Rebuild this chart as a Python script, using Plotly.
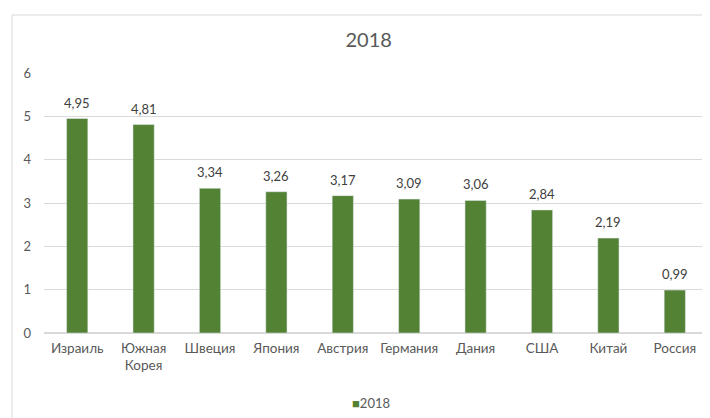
import plotly.graph_objects as go

countries = ["Израиль", "Южная<br>Корея", "Швеция", "Япония", "Австрия",
             "Германия", "Дания", "США", "Китай", "Россия"]
values = [4.95, 4.81, 3.34, 3.26, 3.17, 3.09, 3.06, 2.84, 2.19, 0.99]
labels = [f"{v:.2f}".replace(".", ",") for v in values]
series_name = "2018"
bar_color = "#548235"

fig = go.Figure(go.Bar(
    x=countries, y=values, name=series_name,
    marker=dict(color=bar_color),
))

# data labels a bit above the bar tops, like in Excel
for c, v, t in zip(countries, values, labels):
    fig.add_annotation(x=c, y=v, text=t, showarrow=False, yanchor="bottom",
                       yshift=6, font=dict(size=13, color="#404040"))

# compact Excel-style legend (square right next to the text)
fig.add_annotation(
    text=f"<span style='color:{bar_color}'>■</span>{series_name}",
    xref="paper", yref="paper", x=(363 - 36) / 664, y=(325 - 395) / 260,
    xanchor="center", yanchor="middle", showarrow=False,
    font=dict(size=13, color="#595959"),
)

# the page body has an 8px margin, so everything is laid out 8px up/left
fig.update_layout(
    width=710, height=418,
    margin=dict(l=36, r=10, t=65, b=93, autoexpand=False),
    paper_bgcolor="white", plot_bgcolor="white",
    font=dict(family="Lato, Noto Sans, sans-serif", color="#595959", size=13),
    title=dict(text="2018", x=0.508, xref="container", y=0.923, yanchor="middle",
               font=dict(size=20, color="#595959")),
    bargap=0.68,
    showlegend=False,
    shapes=[dict(type="rect", xref="paper", yref="paper",
                 x0=(4 - 36) / 664, x1=1.05, y0=-0.5, y1=(325 - 7) / 260,
                 line=dict(color="#d9d9d9", width=1), layer="below")],
)
fig.update_yaxes(range=[0, 6], dtick=1, showgrid=True, gridcolor="#d9d9d9",
                 zeroline=True, zerolinecolor="#d9d9d9", ticklabelstandoff=12,
                 tickfont=dict(size=13, color="#595959"))
fig.update_xaxes(showline=False, ticks="", ticklabelstandoff=5,
                 tickfont=dict(size=13.5, color="#595959"))

fig.write_html("out.html")
